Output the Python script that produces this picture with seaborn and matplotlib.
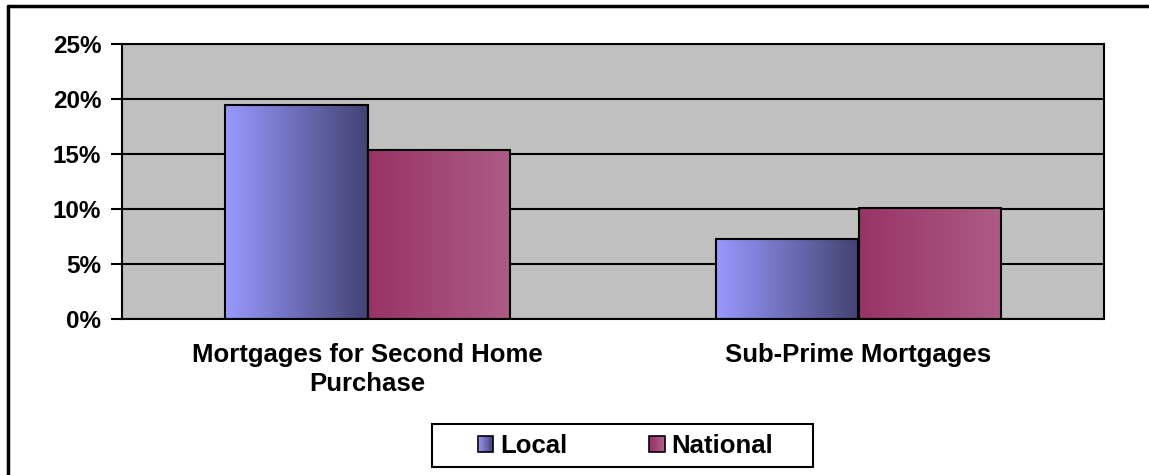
import numpy as np
import pandas as pd
import matplotlib
matplotlib.use("Agg")
import matplotlib.pyplot as plt
import seaborn as sns
from matplotlib.colors import LinearSegmentedColormap
from matplotlib.patches import Rectangle, Patch
from matplotlib.legend_handler import HandlerBase
from matplotlib.lines import Line2D
from matplotlib.ticker import FuncFormatter, FixedLocator

categories = ["Mortgages for Second Home\nPurchase", "Sub-Prime Mortgages"]
series = ["Local", "National"]
local_values = [19.5, 7.3]
national_values = [15.4, 10.1]
y_ticks = [0, 5, 10, 15, 20, 25]

grad = {
    "Local": ("#9999FF", "#434373"),
    "National": ("#993366", "#AD5C85"),
}

df = pd.DataFrame({
    "category": categories * 2,
    "series": [series[0]] * 2 + [series[1]] * 2,
    "value": local_values + national_values,
})

sns.set_theme(style="white")
plt.rcParams["font.family"] = ["Liberation Sans", "DejaVu Sans"]
plt.rcParams["font.weight"] = "bold"
plt.rcParams["text.color"] = "black"
plt.rcParams["xtick.color"] = "black"
plt.rcParams["ytick.color"] = "black"
plt.rcParams["axes.labelcolor"] = "black"

W, H = 1149, 475
fig = plt.figure(figsize=(W / 100, H / 100), dpi=100)
ax = fig.add_axes([122 / W, 1 - 319 / H, (1104 - 122) / W, (319 - 44) / H])
ax.set_facecolor("#C0C0C0")

sns.barplot(data=df, x="category", y="value", hue="series", order=categories,
            hue_order=series, width=0.58, ax=ax, legend=False,
            palette=[grad[s][0] for s in series], edgecolor="black", linewidth=1.5,
            saturation=1)

ax.set_xlim(-0.5, 1.5)
ax.set_ylim(0, 25)

# gradient fills clipped to each bar
for s, cont in zip(series, ax.containers):
    cmap = LinearSegmentedColormap.from_list(s, list(grad[s]))
    for bar in cont:
        x0, y0, w, h = bar.get_x(), bar.get_y(), bar.get_width(), bar.get_height()
        img = ax.imshow(np.linspace(0, 1, 256).reshape(1, -1), cmap=cmap,
                        extent=[x0, x0 + w, y0, y0 + h], aspect="auto",
                        zorder=2, interpolation="bilinear")
        img.set_clip_path(bar)
        bar.set_facecolor("none")
        bar.set_zorder(3)

ax.set_xlim(-0.5, 1.5)
ax.set_ylim(0, 25)
ax.set_aspect("auto")

ax.set_yticks(y_ticks)
ax.yaxis.set_major_formatter(FuncFormatter(lambda v, p: f"{v:.0f}%"))
ax.yaxis.grid(True, color="black", linewidth=1.5)
ax.set_axisbelow(True)

ax.set_xticks(range(len(categories)))
ax.set_xticklabels(categories, fontsize=18.5, fontweight="bold", linespacing=1.3,
                   color="black")
ax.xaxis.set_minor_locator(FixedLocator([-0.5, 0.5, 1.5]))
ax.tick_params(axis="x", which="major", length=0, pad=17)
ax.tick_params(axis="x", which="minor", length=8, width=1.5, color="black", direction="out")
ax.tick_params(axis="y", which="major", length=8, width=1.5, color="black", direction="out",
               labelsize=17.5, pad=7, labelcolor="black")
ax.tick_params(axis="both", bottom=True, left=True)
for lab in ax.get_yticklabels():
    lab.set_fontweight("bold")
ax.set_xlabel("")
ax.set_ylabel("")

for sp in ax.spines.values():
    sp.set_visible(True)
    sp.set_color("black")
    sp.set_linewidth(1.5)


class GradientHandler(HandlerBase):
    def __init__(self, c0, c1):
        super().__init__()
        self.cmap = LinearSegmentedColormap.from_list("h", [c0, c1])

    def create_artists(self, legend, orig_handle, xdescent, ydescent, width, height, fontsize, trans):
        arts = []
        n = 12
        for i in range(n):
            r = Rectangle((-xdescent + width * i / n, -ydescent), width / n + 0.3, height,
                          facecolor=self.cmap(i / (n - 1)), edgecolor="none", transform=trans)
            arts.append(r)
        arts.append(Rectangle((-xdescent, -ydescent), width, height, facecolor="none",
                              edgecolor="black", linewidth=1.2, transform=trans))
        return arts


handles = [Patch(label=s) for s in series]
handler_map = {h: GradientHandler(*grad[s]) for h, s in zip(handles, series)}
leg = fig.legend(handles=handles, labels=series, handler_map=handler_map,
                 loc="center", bbox_to_anchor=(625.5 / W, 1 - 446 / H), ncol=2,
                 frameon=False,
                 prop={"family": "Liberation Sans", "weight": "bold", "size": 18.5},
                 handlelength=0.6, handleheight=0.6, handletextpad=0.27,
                 columnspacing=3.2, borderpad=0.3, borderaxespad=0)
for t in leg.get_texts():
    t.set_color("black")

# legend box
fig.add_artist(Rectangle((432 / W, 1 - 467 / H), (813 - 432) / W, (467 - 424) / H,
                         transform=fig.transFigure, facecolor="none", edgecolor="black",
                         linewidth=1.5, zorder=5))

# outer chart frame (left and top edges visible)
fig.add_artist(Line2D([8 / W, 8 / W], [0, 1 - 6 / H], transform=fig.transFigure,
                      color="black", linewidth=2.5))
fig.add_artist(Line2D([8 / W, 1], [1 - 6 / H, 1 - 6 / H], transform=fig.transFigure,
                      color="black", linewidth=2.5))

fig.savefig("out.png", dpi=100)
